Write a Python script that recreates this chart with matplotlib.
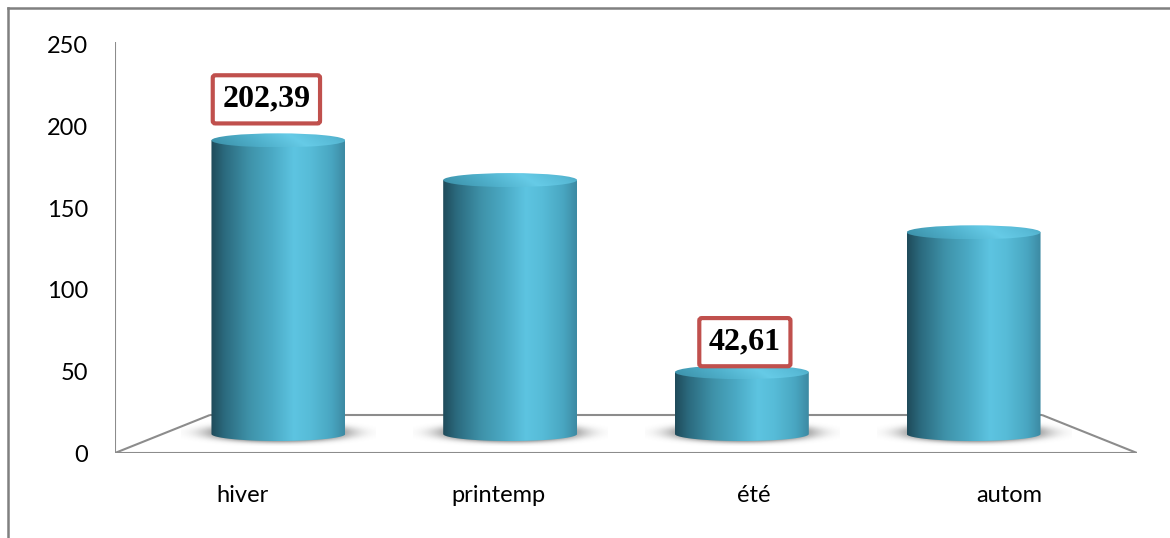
import numpy as np
import matplotlib
matplotlib.use("Agg")
import matplotlib.pyplot as plt
from matplotlib.colors import LinearSegmentedColormap
from matplotlib.path import Path
from matplotlib.patches import PathPatch, Ellipse
from matplotlib.lines import Line2D

# ---- data -------------------------------------------------------------
seasons = ["hiver", "printemp", "été", "autom"]
rainfall = [202.39, 175.0, 42.61, 139.0]
value_labels = ["202,39", None, "42,61", None]
y_ticks = [0, 50, 100, 150, 200, 250]

# ---- figure / axes ----------------------------------------------------
W, H, DPI = 1170, 538, 100
fig = plt.figure(figsize=(W / DPI, H / DPI), dpi=DPI)
fig.patch.set_facecolor("white")
ax = fig.add_axes([115 / W, 1 - 453 / H, (1137 - 115) / W, (453 - 42) / H])
ax.set_autoscale_on(False)
XMIN, XMAX, YMAX = -0.5, 3.5, 251.8
ax.set_xlim(XMIN, XMAX)
ax.set_ylim(0, YMAX)
for s in ax.spines.values():
    s.set_visible(False)

# simple oblique perspective for the 3-D floor: depth 0 = front, 1 = back
BACK_SCALE = 0.814
FLOOR_RISE = 23.3
VFORESHORT = 0.98
XC = (XMIN + XMAX) / 2


def project(x, y, depth):
    s = 1 - (1 - BACK_SCALE) * depth
    return XC + (x - XC) * s, FLOOR_RISE * depth + y * s * VFORESHORT


grid_col = "#8c8c8c"
# vertical axis line
ax.add_line(Line2D([XMIN, XMIN], [0, YMAX], color=grid_col, lw=1.5, zorder=1))
# floor outline
fl, fr = (XMIN, 0), (XMAX, 0)
bl = project(XMIN, 0, 1)
br = project(XMAX, 0, 1)
for a, b in [(fl, fr), (fl, bl), (bl, br), (br, fr)]:
    ax.add_line(Line2D([a[0], b[0]], [a[1], b[1]], color=grid_col, lw=1.5,
                       zorder=1, solid_capstyle="butt"))

# cylinder colours
body_cmap = LinearSegmentedColormap.from_list("body", [
    (0.00, "#1f4b5a"), (0.10, "#2b6a7e"), (0.28, "#3e91a8"),
    (0.46, "#4baac5"), (0.62, "#5dc4e1"), (0.74, "#57bcd8"),
    (0.90, "#49a6c1"), (1.00, "#3c8aa3")])
cap_cmap = LinearSegmentedColormap.from_list("cap", [
    (0.00, "#3a8ea6"), (0.35, "#4fb0cb"), (0.62, "#66cbe7"),
    (0.85, "#58bad6"), (1.00, "#4aa6c0")])

HW = 0.262        # half width of a cylinder (x data units)
EH = 8.6          # vertical size of the elliptical ends (y data units)
grad = np.linspace(0, 1, 256)[None, :]

for i, v in enumerate(rainfall):
    cx, yb = project(i, 0, 0.5)
    _, yt = project(i, v, 0.5)

    # soft contact shadow
    sx, sy = HW * 1.45, EH * 0.95
    gx = np.linspace(-1, 1, 240)
    gy = np.linspace(-1, 1, 80)
    GX, GY = np.meshgrid(gx, gy)
    r = np.sqrt(GX ** 2 + GY ** 2)
    alpha = np.clip(np.exp(-(r / 0.72) ** 4), 0, 1)
    sh = np.zeros((80, 240, 4))
    sh[..., :3] = 0.28
    sh[..., 3] = alpha
    ax.imshow(sh, extent=[cx - sx, cx + sx, yb - sy + 0.8, yb + sy + 0.8],
              origin="lower", aspect="auto", zorder=2, interpolation="bilinear")

    # body: rectangle + lower half of the base ellipse
    t = np.linspace(np.pi, 2 * np.pi, 60)
    bottom = np.column_stack([cx + HW * np.cos(t), yb + EH / 2 * np.sin(t)])
    verts = np.vstack([[cx - HW, yt], bottom, [cx + HW, yt], [cx - HW, yt]])
    clip = PathPatch(Path(verts), facecolor="none", edgecolor="none",
                     transform=ax.transData)
    ax.add_patch(clip)
    im = ax.imshow(grad, cmap=body_cmap, extent=[cx - HW, cx + HW, yb - EH, yt],
                   aspect="auto", zorder=3, interpolation="bilinear")
    im.set_clip_path(clip)

    # top cap
    cap = Ellipse((cx, yt), 2 * HW, EH, facecolor="none", edgecolor="none",
                  transform=ax.transData)
    ax.add_patch(cap)
    capg = np.linspace(0, 1, 256)[None, :] * np.ones((40, 1))
    vy = np.linspace(0, 1, 40)[:, None]
    capg = np.clip(capg * 0.85 + vy * 0.15, 0, 1)
    imc = ax.imshow(capg, cmap=cap_cmap, extent=[cx - HW, cx + HW, yt - EH / 2, yt + EH / 2],
                    origin="lower", aspect="auto", zorder=4, interpolation="bilinear")
    imc.set_clip_path(cap)

# value labels
label_offsets = {0: (-12, 41), 2: (3, 30)}   # pixels from the cap centre
for i, (v, lab) in enumerate(zip(rainfall, value_labels)):
    if lab is None:
        continue
    cx, yt = project(i, v, 0.5)
    dx, dy = label_offsets[i]
    ax.annotate(lab, xy=(cx, yt), xytext=(dx * 0.72, dy * 0.72),
                textcoords="offset points", ha="center", va="center",
                family="Liberation Serif", fontweight="bold", fontsize=23,
                color="black", zorder=6,
                bbox=dict(boxstyle="round,pad=0.3,rounding_size=0.08",
                          facecolor="white", edgecolor="#c0504d", linewidth=3))

# ticks
ax.set_yticks(y_ticks)
ax.set_yticklabels([str(t) for t in y_ticks], family="Lato", fontsize=17)
ax.set_xticks(range(len(seasons)))
ax.set_xticklabels(seasons, family="Lato", fontsize=17)
ax.tick_params(axis="y", length=0, pad=19.5)
ax.tick_params(axis="x", length=0, pad=23)

# chart frame
fig.add_artist(Line2D([8 / W, 8 / W], [0, 1 - 8 / H], transform=fig.transFigure,
                      color="#808080", lw=1.8))
fig.add_artist(Line2D([8 / W, 1], [1 - 8 / H, 1 - 8 / H], transform=fig.transFigure,
                      color="#808080", lw=1.8))

fig.savefig("out.png", dpi=DPI, facecolor="white")
